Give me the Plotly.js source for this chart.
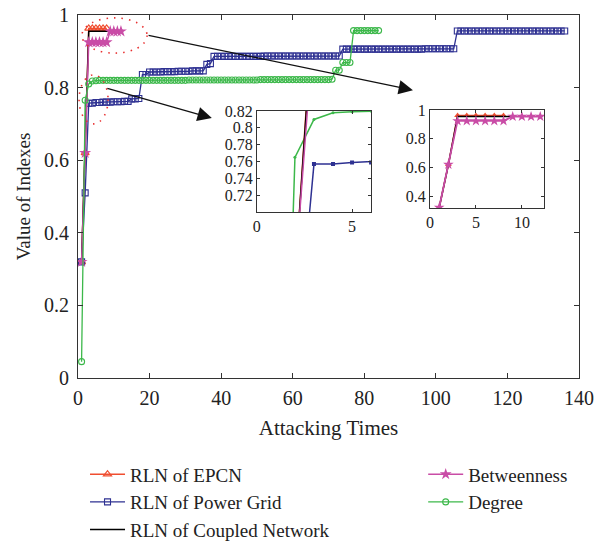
<!DOCTYPE html>
<html>
<head>
<meta charset="utf-8">
<script src="https://cdn.plot.ly/plotly-3.0.1.min.js"></script>
<style>html,body{margin:0;padding:0;background:#fff;}#chart{width:603px;height:544px;}</style>
</head>
<body>
<div id="chart"></div>
<script>
// ---- data ----
const epcnX = [1, 2, 3, 4, 5, 6, 7, 8];
const epcnY = [0.32, 0.62, 0.963, 0.963, 0.963, 0.963, 0.963, 0.963];

const coupledX = [1, 2, 3, 4, 5, 6, 7, 8, 9];
const coupledY = [0.32, 0.62, 0.955, 0.955, 0.955, 0.955, 0.955, 0.955, 0.955];

const betweenX = [1, 2, 3, 4, 5, 6, 7, 8, 9, 10, 11, 12];
const betweenY = [0.32, 0.62, 0.925, 0.925, 0.925, 0.925, 0.925, 0.925, 0.955, 0.955, 0.955, 0.955];

const powerX = [
  1,2,3,4,5,6,7,8,9,10,11,12,13,14,15,16,17,18,19,20,
  21,22,23,24,25,26,27,28,29,30,31,32,33,34,35,36,37,38,39,40,
  41,42,43,44,45,46,47,48,49,50,51,52,53,54,55,56,57,58,59,60,
  61,62,63,64,65,66,67,68,69,70,71,72,73,74,75,76,77,78,79,80,
  81,82,83,84,85,86,87,88,89,90,91,92,93,94,95,96,97,98,99,100,
  101,102,103,104,105,106,107,108,109,110,111,112,113,114,115,116,117,118,119,120,
  121,122,123,124,125,126,127,128,129,130,131,132,133,134,135,136];
const powerY = [
  0.32,0.51,0.757,0.757,0.759,0.759,0.760,0.760,0.760,0.761,0.761,0.761,0.762,0.762,0.769,0.769,0.770,0.836,0.836,0.843,
  0.843,0.843,0.843,0.844,0.844,0.844,0.844,0.845,0.845,0.845,0.845,0.846,0.846,0.846,0.846,0.864,0.866,0.886,0.886,0.886,
  0.886,0.886,0.886,0.886,0.886,0.886,0.886,0.886,0.886,0.886,0.886,0.887,0.887,0.887,0.887,0.887,0.887,0.887,0.887,0.887,
  0.887,0.887,0.887,0.887,0.887,0.887,0.887,0.887,0.887,0.887,0.887,0.887,0.887,0.906,0.906,0.906,0.906,0.906,0.906,0.906,
  0.906,0.906,0.906,0.906,0.906,0.906,0.906,0.906,0.906,0.906,0.906,0.906,0.906,0.906,0.906,0.906,0.907,0.907,0.907,0.907,
  0.907,0.907,0.907,0.907,0.907,0.956,0.956,0.956,0.956,0.956,0.956,0.956,0.956,0.956,0.956,0.956,0.956,0.956,0.956,0.956,
  0.956,0.956,0.956,0.956,0.956,0.956,0.956,0.956,0.956,0.956,0.956,0.956,0.956,0.956,0.956,0.956];

const degreeX = [
  1,2,3,4,5,6,7,8,9,10,11,12,13,14,15,16,17,18,19,20,
  21,22,23,24,25,26,27,28,29,30,31,32,33,34,35,36,37,38,39,40,
  41,42,43,44,45,46,47,48,49,50,51,52,53,54,55,56,57,58,59,60,
  61,62,63,64,65,66,67,68,69,70,71,72,73,74,75,76,77,78,79,80,
  81,82,83,84];
const degreeY = [
  0.045,0.765,0.81,0.818,0.819,0.820,0.820,0.820,0.820,0.820,0.820,0.820,0.820,0.820,0.820,0.820,0.820,0.820,0.820,0.820,
  0.820,0.820,0.820,0.820,0.820,0.820,0.820,0.820,0.820,0.820,0.821,0.821,0.821,0.821,0.821,0.821,0.821,0.821,0.821,0.821,
  0.821,0.821,0.821,0.821,0.821,0.821,0.821,0.821,0.821,0.821,0.822,0.822,0.822,0.822,0.822,0.822,0.822,0.822,0.822,0.822,
  0.822,0.822,0.822,0.822,0.822,0.822,0.822,0.822,0.822,0.822,0.823,0.848,0.848,0.869,0.869,0.869,0.957,0.957,0.957,0.957,
  0.957,0.957,0.957,0.957];

const xTicks = [0, 20, 40, 60, 80, 100, 120, 140];
const yTicks = [0, 0.2, 0.4, 0.6, 0.8, 1];
const yTickText = ['0', '0.2', '0.4', '0.6', '0.8', '1'];
const inset1YTicks = [0.72, 0.74, 0.76, 0.78, 0.8, 0.82];
const inset1YText = ['0.72', '0.74', '0.76', '0.78', '0.8', '0.82'];
const inset1XTicks = [0, 5];
const inset2XTicks = [0, 5, 10];
const inset2YTicks = [0.4, 0.6, 0.8, 1];
const inset2YText = ['0.4', '0.6', '0.8', '1'];

// ---- styles ----
const RED = '#f04e30', BLUE = '#2e3192', BLACK = '#000000', MAG = '#c94ca6', GREEN = '#3cb84a';
const FONT = 'Liberation Serif, Times New Roman, serif';
const TXT = '#222';

const traces = [
  // main plot
  {x: epcnX, y: epcnY, name: 'RLN of EPCN', mode: 'lines+markers', legend: 'legend',
   line: {color: RED, width: 1.5}, marker: {symbol: 'triangle-up-open', size: 7, color: RED, line: {width: 1.2}}},
  {x: powerX, y: powerY, name: 'RLN of Power Grid', mode: 'lines+markers', legend: 'legend',
   line: {color: BLUE, width: 1.3}, marker: {symbol: 'square-open', size: 6, color: BLUE, line: {width: 1.1}}},
  {x: coupledX, y: coupledY, name: 'RLN of Coupled Network', mode: 'lines', legend: 'legend',
   line: {color: BLACK, width: 1.5}},
  {x: betweenX, y: betweenY, name: 'Betweenness', mode: 'lines+markers', legend: 'legend2',
   line: {color: MAG, width: 1.5}, marker: {symbol: 'star', size: 9, color: MAG}},
  {x: degreeX, y: degreeY, name: 'Degree', mode: 'lines+markers', legend: 'legend2',
   line: {color: GREEN, width: 1.3}, marker: {symbol: 'circle-open', size: 6, color: GREEN, line: {width: 1.1}}},
  // inset 1
  {x: powerX, y: powerY, xaxis: 'x2', yaxis: 'y2', mode: 'lines+markers', showlegend: false,
   line: {color: BLUE, width: 1.5}, marker: {symbol: 'square', size: 4, color: BLUE}},
  {x: degreeX, y: degreeY, xaxis: 'x2', yaxis: 'y2', mode: 'lines+markers', showlegend: false,
   line: {color: GREEN, width: 1.5}, marker: {symbol: 'circle', size: 3, color: GREEN}},
  {x: epcnX, y: epcnY, xaxis: 'x2', yaxis: 'y2', mode: 'lines', showlegend: false,
   line: {color: RED, width: 1.5}},
  {x: coupledX, y: coupledY, xaxis: 'x2', yaxis: 'y2', mode: 'lines', showlegend: false,
   line: {color: BLACK, width: 1.5}},
  {x: betweenX, y: betweenY, xaxis: 'x2', yaxis: 'y2', mode: 'lines', showlegend: false,
   line: {color: MAG, width: 1.5}},
  // inset 2
  {x: epcnX, y: epcnY, xaxis: 'x3', yaxis: 'y3', mode: 'lines+markers', showlegend: false,
   line: {color: RED, width: 1.5}, marker: {symbol: 'triangle-up', size: 6, color: RED}},
  {x: coupledX, y: coupledY, xaxis: 'x3', yaxis: 'y3', mode: 'lines', showlegend: false,
   line: {color: BLACK, width: 1.5}},
  {x: betweenX, y: betweenY, xaxis: 'x3', yaxis: 'y3', mode: 'lines+markers', showlegend: false,
   line: {color: MAG, width: 1.8}, marker: {symbol: 'star', size: 8, color: MAG}}
];

const axisBase = {
  showline: true, linecolor: '#333', linewidth: 1, mirror: 'ticks',
  ticks: 'inside', ticklen: 5, tickcolor: '#333', showgrid: false, zeroline: false,
  tickfont: {family: FONT, size: 20, color: TXT}
};
const insetFont = {family: FONT, size: 16, color: TXT};

const layout = {
  width: 603, height: 544,
  margin: {l: 78, r: 24, t: 15, b: 166, autoexpand: false},
  paper_bgcolor: '#fff', plot_bgcolor: '#fff',
  font: {family: FONT, color: TXT},
  xaxis: Object.assign({}, axisBase, {
    domain: [0, 1], range: [0, 140], tickvals: xTicks, ticklabelstandoff: 2, automargin: false,
    title: {text: 'Attacking Times', font: {family: FONT, size: 21, color: TXT}, standoff: 12}
  }),
  yaxis: Object.assign({}, axisBase, {
    domain: [0, 1], range: [0, 1], tickvals: yTicks, ticktext: yTickText, ticklabelstandoff: 4, automargin: false,
    title: {text: 'Value of Indexes', font: {family: FONT, size: 19, color: TXT}, standoff: 8}
  }),
  xaxis2: Object.assign({}, axisBase, {
    domain: [0.357, 0.585], anchor: 'y2', range: [0, 6], tickvals: inset1XTicks, ticklen: 3, tickfont: insetFont, automargin: false
  }),
  yaxis2: Object.assign({}, axisBase, {
    domain: [0.457, 0.7355], anchor: 'x2', range: [0.70, 0.82], tickvals: inset1YTicks, ticktext: inset1YText, ticklen: 3, tickfont: insetFont, automargin: false
  }),
  xaxis3: Object.assign({}, axisBase, {
    domain: [0.7026, 0.930], anchor: 'y3', range: [0, 12.4], tickvals: inset2XTicks, ticklen: 3, tickfont: insetFont, automargin: false
  }),
  yaxis3: Object.assign({}, axisBase, {
    domain: [0.468, 0.738], anchor: 'x3', range: [0.316, 1], tickvals: inset2YTicks, ticktext: inset2YText, ticklen: 3, tickfont: insetFont, automargin: false
  }),
  legend: {
    x: 0.014, xanchor: 'left', y: 0.163, yref: 'container', yanchor: 'top', orientation: 'v',
    bgcolor: 'rgba(0,0,0,0)', borderwidth: 0, itemwidth: 35,
    font: {family: FONT, size: 19, color: TXT}
  },
  legend2: {
    x: 0.689, xanchor: 'left', y: 0.163, yref: 'container', yanchor: 'top', orientation: 'v',
    bgcolor: 'rgba(0,0,0,0)', borderwidth: 0, itemwidth: 35,
    font: {family: FONT, size: 19, color: TXT}
  },
  shapes: [
    {type: 'circle', xref: 'x', yref: 'y', x0: 1.1, x1: 19.3, y0: 0.895, y1: 0.992,
     line: {color: '#e83030', width: 1.6, dash: '1.5px,6px'}},
    {type: 'circle', xref: 'x', yref: 'y', x0: 0.3, x1: 8.4, y0: 0.70, y1: 0.835,
     line: {color: '#e83030', width: 1.6, dash: '1.5px,6px'}}
  ],
  annotations: [
    {x: 93.6, y: 0.793, ax: 19.3, ay: 0.945, xref: 'x', yref: 'y', axref: 'x', ayref: 'y',
     text: '', showarrow: true, arrowhead: 2, arrowsize: 2.2, arrowwidth: 1.3, arrowcolor: '#111'},
    {x: 37.4, y: 0.716, ax: 7.8, ay: 0.799, xref: 'x', yref: 'y', axref: 'x', ayref: 'y',
     text: '', showarrow: true, arrowhead: 2, arrowsize: 2.2, arrowwidth: 1.3, arrowcolor: '#111'}
  ]
};

Plotly.newPlot('chart', traces, layout, {displayModeBar: false, staticPlot: true});
</script>
</body>
</html>
